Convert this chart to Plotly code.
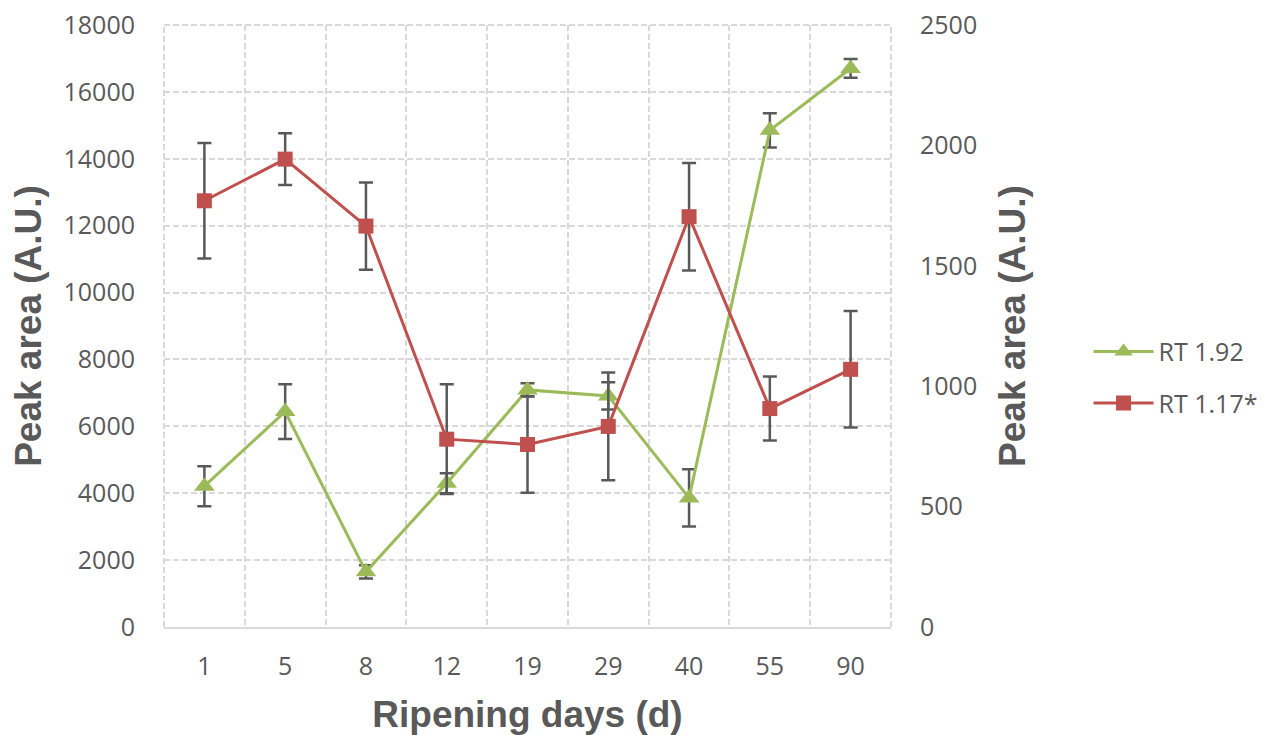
import plotly.graph_objects as go

# Ripening days (categories on the x axis)
days = ["1", "5", "8", "12", "19", "29", "40", "55", "90"]

# RT 1.92 peak area (primary axis) and its standard deviation
rt192 = [4210, 6440, 1650, 4300, 7090, 6910, 3860, 14850, 16700]
rt192_err = [600, 820, 200, 300, 200, 410, 856, 510, 280]

# RT 1.17* peak area (secondary axis) and its standard deviation
rt117 = [1770, 1943, 1665, 780, 758, 833, 1704, 907, 1070]
rt117_err = [240, 107, 181, 228, 200, 224, 223, 133, 242]

left_ticks = list(range(0, 18001, 2000))
right_ticks = list(range(0, 2501, 500))

GREEN = "#9BBB59"
RED = "#C0504D"
ERR = "#595959"
GRID = "#D9D9D9"
TXT = "#595959"

pos = list(range(1, len(days) + 1))

fig = go.Figure()

fig.add_trace(go.Scatter(
    x=pos, y=rt192, name="RT 1.92", mode="lines+markers",
    line=dict(color=GREEN, width=3),
    marker=dict(symbol="triangle-up", size=18, color=GREEN),
    error_y=dict(type="data", array=rt192_err, color=ERR, thickness=2.5, width=7),
    legendrank=1, legendgroup="a",
))

fig.add_trace(go.Scatter(
    x=pos, y=rt117, name="RT 1.17*", mode="lines+markers", yaxis="y2",
    line=dict(color=RED, width=3),
    marker=dict(symbol="square", size=15, color=RED),
    error_y=dict(type="data", array=rt117_err, color=ERR, thickness=2.5, width=7),
    legendrank=2, legendgroup="b",
))

tick_font = dict(family="Open Sans", size=25, color=TXT)
title_font = dict(family="Liberation Sans", size=37, color=TXT)
dash = "6px,3px"

# dashed frame on the left, right and top edges of the plot area
edge = dict(type="line", line=dict(color=GRID, width=2, dash=dash), layer="below")
shapes = [
    dict(edge, xref="x domain", yref="y domain", x0=0, x1=0, y0=0, y1=1),
    dict(edge, xref="x domain", yref="y domain", x0=1, x1=1, y0=0, y1=1),
    dict(edge, xref="x domain", yref="y domain", x0=0, x1=1, y0=1, y1=1),
]

fig.update_layout(
    width=1273, height=735,
    margin=dict(l=164, r=381, t=25, b=108),
    paper_bgcolor="white", plot_bgcolor="white",
    showlegend=True,
    shapes=shapes,
    legend=dict(
        x=1.27, y=0.415, xanchor="left", yanchor="middle",
        font=dict(family="Open Sans", size=25, color=TXT),
        tracegroupgap=16, traceorder="grouped", itemwidth=60,
    ),
    xaxis=dict(
        range=[0.5, len(days) + 0.5], automargin=False,
        tickmode="array", tickvals=pos, ticktext=days,
        tickfont=tick_font, ticks="", ticklabelstandoff=16,
        showgrid=False, zeroline=False,
        showline=True, linecolor=GRID, linewidth=2,
        minor=dict(tickmode="array", tickvals=[p - 0.5 for p in pos] + [len(days) + 0.5],
                   showgrid=True, gridcolor=GRID, gridwidth=2, griddash=dash, ticks=""),
        title=dict(text="<b>Ripening days (d)</b>", font=title_font, standoff=20),
    ),
    yaxis=dict(
        range=[0, 18000], automargin=False, tickmode="array", tickvals=left_ticks,
        ticktext=[str(v) for v in left_ticks],
        tickfont=tick_font, ticks="", ticklabelstandoff=28,
        showgrid=True, gridcolor=GRID, gridwidth=2, griddash=dash,
        zeroline=False, showline=False,
        title=dict(text="<b>Peak area (A.U.)</b>", font=title_font, standoff=10),
    ),
    yaxis2=dict(
        range=[0, 2500], automargin=False, tickmode="array", tickvals=right_ticks,
        ticktext=[str(v) for v in right_ticks],
        overlaying="y", side="right",
        tickfont=tick_font, ticks="", ticklabelstandoff=28,
        showgrid=False, zeroline=False, showline=False,
        title=dict(text="<b>Peak area (A.U.)</b>", font=title_font, standoff=22),
    ),
)

fig.write_html("out.html")
